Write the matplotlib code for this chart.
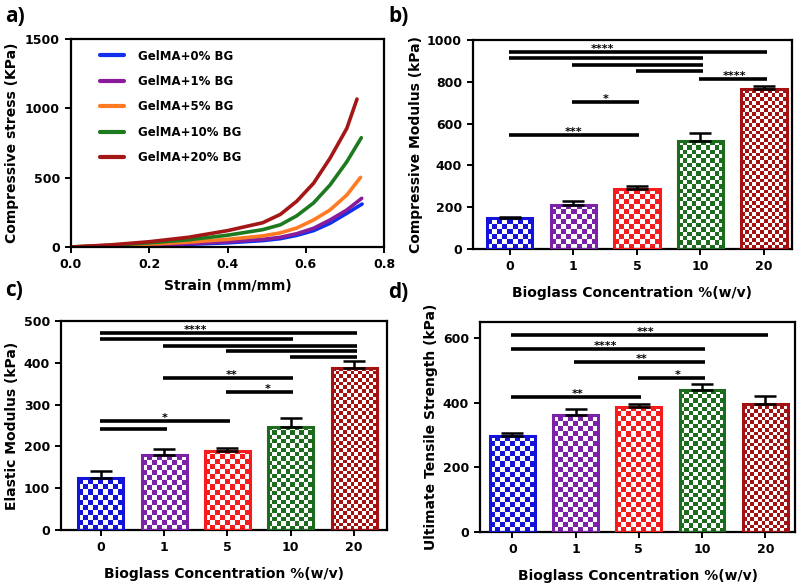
import numpy as np
import matplotlib
matplotlib.use("Agg")
import matplotlib.pyplot as plt
from matplotlib.colors import ListedColormap

plt.rcParams["font.family"] = ["DejaVu Sans"]
plt.rcParams["font.weight"] = "bold"
plt.rcParams["axes.labelweight"] = "bold"

# ---- panel a: stress-strain curves ----
SERIES = ["GelMA+0% BG", "GelMA+1% BG", "GelMA+5% BG", "GelMA+10% BG", "GelMA+20% BG"]
STRAIN_0 = [0, 0.1, 0.2, 0.3, 0.4, 0.49, 0.535, 0.577, 0.62, 0.662, 0.705, 0.744]
STRAIN_1 = [0, 0.1, 0.2, 0.3, 0.4, 0.49, 0.535, 0.577, 0.62, 0.662, 0.705, 0.743]
STRAIN_5 = [0, 0.1, 0.2, 0.3, 0.4, 0.49, 0.535, 0.577, 0.62, 0.662, 0.705, 0.740]
STRAIN_10 = [0, 0.1, 0.2, 0.3, 0.4, 0.49, 0.535, 0.577, 0.62, 0.662, 0.705, 0.742]
STRAIN_20 = [0, 0.1, 0.2, 0.3, 0.4, 0.49, 0.535, 0.577, 0.62, 0.662, 0.705, 0.731]
STRESS_0 = [0, 4, 10, 19, 30, 46, 60, 84, 118, 171, 243, 310]
STRESS_1 = [0, 5, 13, 24, 38, 55, 70, 96, 135, 195, 267, 351]
STRESS_5 = [0, 8, 20, 35, 55, 80, 102, 137, 195, 267, 375, 502]
STRESS_10 = [0, 12, 30, 52, 85, 125, 160, 225, 318, 447, 615, 788]
STRESS_20 = [0, 15, 38, 70, 118, 175, 235, 330, 460, 640, 856, 1067]
LINE_COLORS = ["#1030f0", "#8a1c9c", "#ff7a22", "#1e7a1e", "#a51616"]

# ---- bar panels ----
CONC = ["0", "1", "5", "10", "20"]
BAR_COLORS = ["#1414d8", "#7c22a8", "#f41c1c", "#1d6b1d", "#a31212"]

COMP_MOD = [147, 210, 286, 519, 765]
COMP_ERR = [8, 20, 15, 34, 16]
COMP_PAIRS = [(0, 4), (0, 3), (1, 3), (2, 3), (3, 4), (1, 2), (0, 2)]
COMP_SIG_Y = [941, 914, 882, 853, 812, 705, 547]
COMP_SIG = ["****", "", "", "", "****", "*", "***"]
COMP_STAR_X = [1.46, None, None, None, 3.54, 1.5, 1.0]

EL_MOD = [125, 179, 189, 247, 387]
EL_ERR = [15, 15, 8, 22, 17]
EL_PAIRS = [(0, 4), (0, 3), (1, 4), (2, 4), (3, 4), (1, 3), (2, 3), (0, 2), (0, 1)]
EL_SIG_Y = [472, 457, 441, 428, 414, 363, 329, 261, 241]
EL_SIG = ["****", "", "", "", "", "**", "*", "*", ""]
EL_STAR_X = [1.49, None, None, None, None, 2.07, 2.63, 1.01, None]

UTS = [298, 363, 388, 441, 397]
UTS_ERR = [9, 17, 8, 17, 24]
UTS_PAIRS = [(0, 4), (0, 3), (1, 3), (2, 3), (0, 2)]
UTS_SIG_Y = [609, 565, 527, 478, 418]
UTS_SIG = ["***", "****", "**", "*", "**"]
UTS_STAR_X = [2.1, 1.47, 2.04, 2.62, 1.04]

CELL_PX = [5, 5, 5, 4.3, 3.7]

fig = plt.figure(figsize=(8, 5.84), dpi=100)


def style_axes(ax):
    for s in ax.spines.values():
        s.set_linewidth(1.6)
        s.set_color("black")
    ax.tick_params(direction="out", length=4, width=1.4, labelsize=9, pad=4)
    for lab in ax.get_xticklabels() + ax.get_yticklabels():
        lab.set_fontweight("bold")


def checker_bar(ax, x, h, w, color, cell):
    p0 = ax.transData.transform((0, 0))
    p1 = ax.transData.transform((1, 1))
    pxx, pxy = p1[0] - p0[0], p1[1] - p0[1]
    nx = max(1, int(round(w * pxx / cell)))
    ny = max(1, int(np.ceil(h * pxy / cell)))
    arr = np.add.outer(np.arange(ny), np.arange(nx)) % 2
    cm = ListedColormap(["white", color])
    im = ax.imshow(arr, extent=(x - w / 2, x + w / 2, 0, ny * cell / pxy),
                   origin="lower", cmap=cm, interpolation="nearest",
                   aspect="auto", zorder=2)
    rect = ax.bar(x, h, w, facecolor="none", edgecolor=color, lw=2.2, zorder=3)[0]
    im.set_clip_path(rect)


def bar_panel(rect, vals, errs, pairs, sig_y, sig, star_x, ylim, yticks, ylabel, xlim, ylpad):
    ax = fig.add_axes(rect)
    ax.set_xlim(*xlim)
    ax.set_ylim(*ylim)
    xs = np.arange(len(vals))
    w = 0.71
    for i, (v, e) in enumerate(zip(vals, errs)):
        checker_bar(ax, xs[i], v, w, BAR_COLORS[i], CELL_PX[i])
        ax.errorbar(xs[i], v, yerr=[[0], [e]], fmt="none", ecolor="black",
                    elinewidth=1.8, capsize=8, capthick=1.8, zorder=4)
    for (i, j), y, lab, sx in zip(pairs, sig_y, sig, star_x):
        ax.plot([i - 0.02, j + 0.04], [y, y], color="black", lw=2.6,
                solid_capstyle="butt", zorder=5)
        if lab:
            ax.annotate(lab, (sx, y), xytext=(0, 0), textcoords="offset points",
                        ha="center", va="baseline", fontsize=8, fontweight="bold")
    ax.set_xlim(*xlim)
    ax.set_ylim(*ylim)
    ax.set_xticks(xs)
    ax.set_xticklabels(CONC)
    ax.set_yticks(yticks)
    ax.set_xlabel("Bioglass Concentration %(w/v)", fontsize=10, labelpad=9)
    ax.set_ylabel(ylabel, fontsize=10, labelpad=ylpad)
    style_axes(ax)
    return ax


# a) stress-strain
ax = fig.add_axes([71 / 800, 1 - 247 / 584, 313 / 800, 208 / 584])
strains = [STRAIN_0, STRAIN_1, STRAIN_5, STRAIN_10, STRAIN_20]
stresses = [STRESS_0, STRESS_1, STRESS_5, STRESS_10, STRESS_20]
for name, sx, sy, c in zip(SERIES, strains, stresses, LINE_COLORS):
    ax.plot(sx, sy, color=c, lw=2.6, label=name, solid_capstyle="round",
            solid_joinstyle="round")
ax.set_xlim(0, 0.8)
ax.set_ylim(0, 1500)
ax.set_xticks([0, 0.2, 0.4, 0.6, 0.8])
ax.set_xticklabels(["0.0", "0.2", "0.4", "0.6", "0.8"])
ax.set_yticks([0, 500, 1000, 1500])
ax.set_xlabel("Strain (mm/mm)", fontsize=10, labelpad=6)
ax.set_ylabel("Compressive stress (KPa)", fontsize=10, labelpad=4)
style_axes(ax)
leg = ax.legend(loc="upper left", bbox_to_anchor=(0.06, 1.0), frameon=False,
                prop={"size": 8.5, "weight": "bold"}, handlelength=2.0,
                handletextpad=1.2, labelspacing=1.05)
for ln in leg.get_lines():
    ln.set_linewidth(3)

# b) compressive modulus
bar_panel([473 / 800, 1 - 249 / 584, 319 / 800, 209 / 584], COMP_MOD, COMP_ERR,
          COMP_PAIRS, COMP_SIG_Y, COMP_SIG, COMP_STAR_X, (0, 1000),
          [0, 200, 400, 600, 800, 1000], "Compressive Modulus (kPa)", (-0.58, 4.44), 3)

# c) elastic modulus
bar_panel([61 / 800, 1 - 530 / 584, 326 / 800, 209 / 584], EL_MOD, EL_ERR,
          EL_PAIRS, EL_SIG_Y, EL_SIG, EL_STAR_X, (0, 500),
          [0, 100, 200, 300, 400, 500], "Elastic Modulus (kPa)", (-0.63, 4.52), 3)

# d) ultimate tensile strength
bar_panel([480 / 800, 1 - 532 / 584, 315 / 800, 210 / 584], UTS, UTS_ERR,
          UTS_PAIRS, UTS_SIG_Y, UTS_SIG, UTS_STAR_X, (0, 650),
          [0, 200, 400, 600], "Ultimate Tensile Strength (kPa)", (-0.51, 4.47), 3)

for lab, x, y in [("a)", 5, 16), ("b)", 388, 16), ("c)", 5, 291), ("d)", 388, 293)]:
    fig.text(x / 800, 1 - y / 584, lab, fontsize=15, fontweight="bold",
             family=["Open Sans", "DejaVu Sans"], ha="left", va="center")

fig.savefig("out.png", dpi=100)
